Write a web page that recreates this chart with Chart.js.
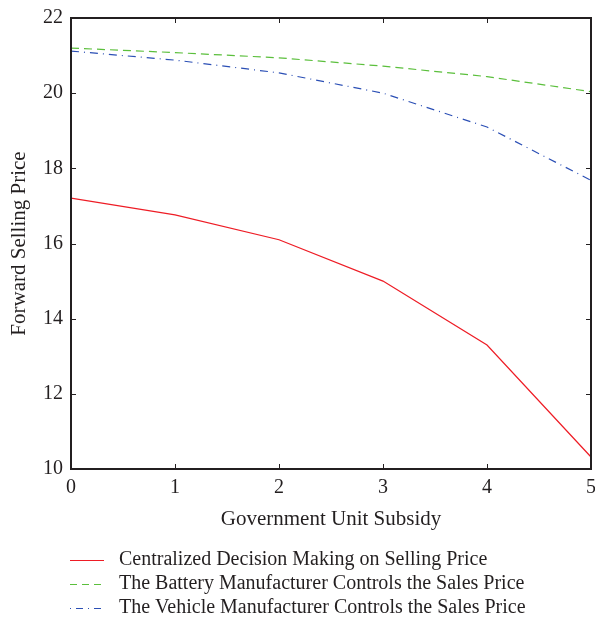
<!DOCTYPE html>
<html>
<head>
<meta charset="utf-8">
<script src="https://cdn.jsdelivr.net/npm/chart.js@4/dist/chart.umd.min.js"></script>
<style>
  html, body { margin: 0; padding: 0; background: #fff; }
  #wrap { width: 595px; height: 624px; position: relative; }
</style>
</head>
<body>
<div id="wrap"><canvas id="chart" width="595" height="624"></canvas></div>
<script>
// data
const subsidy = [0, 1, 2, 3, 4, 5];
const centralized = [17.21, 16.76, 16.10, 15.00, 13.30, 10.32];
const batteryCtrl = [21.20, 21.08, 20.94, 20.72, 20.44, 20.04];
const vehicleCtrl = [21.12, 20.88, 20.54, 20.00, 19.10, 17.68];
const xTicks = [0, 1, 2, 3, 4, 5];
const yTicks = [10, 12, 14, 16, 18, 20, 22];
const seriesNames = [
  'Centralized Decision Making on Selling Price',
  'The Battery Manufacturer Controls the Sales Price',
  'The Vehicle Manufacturer Controls the Sales Price'
];

const FONT = '"Liberation Serif", "DejaVu Serif", serif';
const TEXT = '#231f20';

const toPoints = (ys) => subsidy.map((x, i) => ({ x: x, y: ys[i] }));

const series = [
  { data: centralized, color: '#ee1c25', dash: [], legendDash: [] },
  { data: batteryCtrl, color: '#5bbf3c', dash: [8, 5], legendDash: [7, 5] },
  { data: vehicleCtrl, color: '#2b4fb5', dash: [8, 5, 1, 5], legendDash: [1, 5, 7, 5] }
];

// box frame, inward ticks, axis titles and the legend below the plot
const framePlugin = {
  id: 'frame',
  afterDraw(chart) {
    const { ctx, chartArea: a, scales } = chart;
    ctx.save();
    ctx.strokeStyle = TEXT;
    ctx.lineWidth = 1;
    ctx.beginPath();
    xTicks.forEach(v => {
      const px = Math.round(scales.x.getPixelForValue(v)) + 0.5;
      ctx.moveTo(px, a.bottom); ctx.lineTo(px, a.bottom - 5);
      ctx.moveTo(px, a.top); ctx.lineTo(px, a.top + 5);
    });
    yTicks.forEach(v => {
      const py = Math.round(scales.y.getPixelForValue(v)) + 0.5;
      ctx.moveTo(a.left, py); ctx.lineTo(a.left + 5, py);
      ctx.moveTo(a.right, py); ctx.lineTo(a.right - 5, py);
    });
    ctx.stroke();
    ctx.lineWidth = 2;
    ctx.strokeRect(a.left, a.top, a.right - a.left, a.bottom - a.top);

    ctx.fillStyle = TEXT;
    ctx.font = '21px ' + FONT;
    ctx.textAlign = 'center';
    ctx.textBaseline = 'middle';
    ctx.fillText('Government Unit Subsidy', (a.left + a.right) / 2, 519);
    ctx.save();
    ctx.translate(19, (a.top + a.bottom) / 2);
    ctx.rotate(-Math.PI / 2);
    ctx.fillText('Forward Selling Price', 0, 0);
    ctx.restore();

    ctx.font = '20px ' + FONT;
    ctx.textAlign = 'left';
    series.forEach((s, i) => {
      const y = 560 + i * 24;
      ctx.strokeStyle = s.color;
      ctx.lineWidth = 1;
      ctx.setLineDash(s.legendDash);
      ctx.beginPath();
      ctx.moveTo(70, y + 0.5); ctx.lineTo(104, y + 0.5);
      ctx.stroke();
      ctx.setLineDash([]);
      ctx.fillStyle = TEXT;
      ctx.fillText(seriesNames[i], 119, y);
    });
    ctx.restore();
  }
};

new Chart(document.getElementById('chart'), {
  type: 'line',
  data: {
    datasets: series.map((s, i) => ({
      label: seriesNames[i],
      data: toPoints(s.data),
      borderColor: s.color,
      borderWidth: 1.2,
      borderDash: s.dash,
      pointRadius: 0,
      tension: 0,
      fill: false
    }))
  },
  options: {
    responsive: false,
    animation: false,
    layout: { padding: { top: 18, right: 4, left: 0, bottom: 0 } },
    plugins: { legend: { display: false }, tooltip: { enabled: false } },
    scales: {
      x: {
        type: 'linear',
        min: 0, max: 5,
        afterBuildTicks: (scale) => { scale.ticks = xTicks.map(v => ({ value: v })); },
        afterFit: (scale) => { scale.height = 155; scale.paddingLeft = 0; scale.paddingRight = 0; },
        grid: { display: false, drawTicks: false },
        border: { display: false },
        ticks: { color: TEXT, font: { family: FONT, size: 20 }, padding: 7, maxRotation: 0 }
      },
      y: {
        type: 'linear',
        min: 10, max: 22,
        afterBuildTicks: (scale) => { scale.ticks = yTicks.map(v => ({ value: v })); },
        afterFit: (scale) => { scale.width = 71; scale.paddingTop = 0; scale.paddingBottom = 0; },
        grid: { display: false, drawTicks: false },
        border: { display: false },
        ticks: { color: TEXT, font: { family: FONT, size: 20 }, padding: 8 }
      }
    }
  },
  plugins: [framePlugin]
});
</script>
</body>
</html>
